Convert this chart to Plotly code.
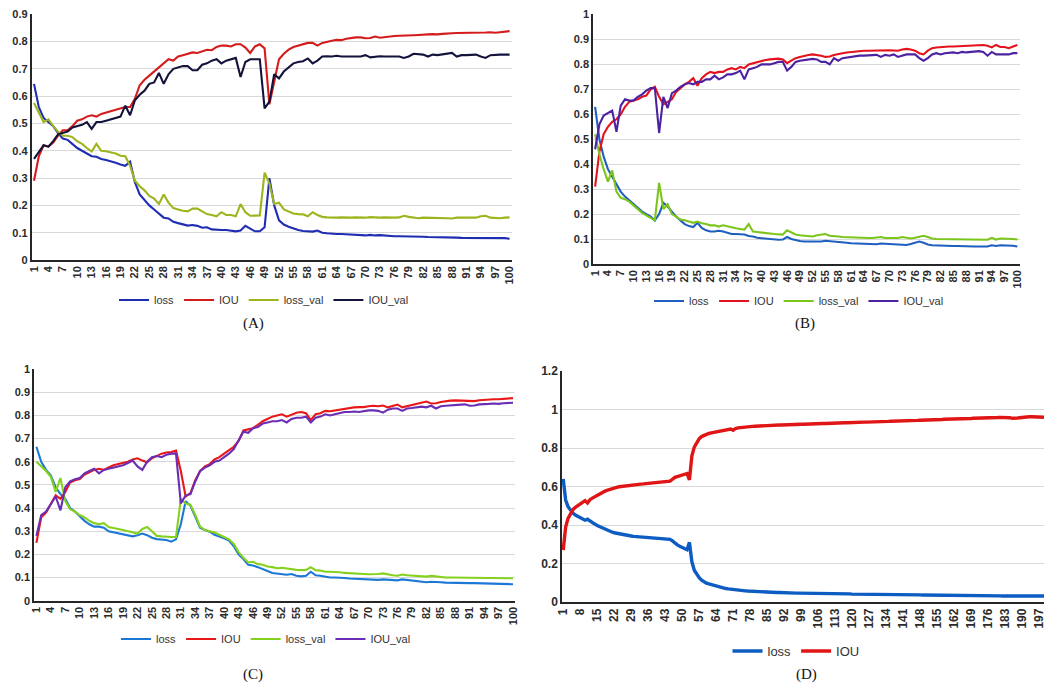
import plotly.graph_objects as go

W, H = 1052, 684

# ---- panel A (100 epochs) ----
a_loss = [0.645, 0.56, 0.52, 0.505, 0.49, 0.465, 0.445, 0.44, 0.425, 0.41,
          0.4, 0.39, 0.38, 0.378, 0.37, 0.366, 0.362, 0.356, 0.35, 0.345,
          0.36, 0.285, 0.24, 0.22, 0.2, 0.185, 0.17, 0.155, 0.152, 0.14,
          0.135, 0.13, 0.126, 0.128, 0.125, 0.118, 0.12, 0.112, 0.11, 0.11,
          0.11, 0.108, 0.105, 0.108, 0.125, 0.115, 0.105, 0.105, 0.12, 0.3,
          0.2, 0.145, 0.13, 0.122, 0.115, 0.11, 0.106, 0.104, 0.104, 0.108,
          0.1, 0.098, 0.096, 0.095, 0.095, 0.094, 0.093, 0.092, 0.09, 0.09,
          0.092, 0.09, 0.091, 0.089, 0.088, 0.087, 0.087, 0.087, 0.086, 0.086,
          0.085, 0.085, 0.084, 0.084, 0.084, 0.083, 0.083, 0.082, 0.082, 0.081,
          0.081, 0.08, 0.08, 0.08, 0.08, 0.08, 0.08, 0.081, 0.08, 0.078]
a_iou = [0.29, 0.38, 0.42, 0.415, 0.43, 0.455, 0.475, 0.475, 0.49, 0.51,
         0.515, 0.525, 0.53, 0.525, 0.535, 0.54, 0.545, 0.55, 0.555, 0.56,
         0.56, 0.59, 0.64, 0.66, 0.675, 0.69, 0.705, 0.72, 0.735, 0.73,
         0.745, 0.75, 0.755, 0.76, 0.758, 0.765, 0.77, 0.768, 0.78, 0.785,
         0.785, 0.782, 0.79, 0.79, 0.778, 0.758, 0.782, 0.79, 0.775, 0.57,
         0.65, 0.735, 0.755, 0.77, 0.78, 0.785, 0.79, 0.795, 0.795, 0.785,
         0.795, 0.8, 0.803, 0.806, 0.805, 0.81, 0.813, 0.815, 0.815, 0.812,
         0.813, 0.818, 0.814, 0.816, 0.82, 0.82, 0.821, 0.821, 0.822, 0.823,
         0.824, 0.826, 0.826, 0.827, 0.826, 0.828, 0.83, 0.83, 0.831, 0.831,
         0.832, 0.833, 0.833, 0.833, 0.833, 0.834, 0.832, 0.834, 0.836, 0.838]
a_loss_val = [0.575, 0.54, 0.505, 0.515, 0.49, 0.47, 0.455, 0.455, 0.45, 0.435,
              0.425, 0.41, 0.397, 0.425, 0.4, 0.398, 0.395, 0.39, 0.382, 0.38,
              0.345, 0.29, 0.27, 0.255, 0.235, 0.225, 0.205, 0.24, 0.21, 0.19,
              0.185, 0.18, 0.178, 0.188, 0.188, 0.178, 0.168, 0.165, 0.16, 0.175,
              0.165, 0.165, 0.16, 0.205, 0.175, 0.162, 0.163, 0.163, 0.32, 0.28,
              0.205, 0.21, 0.185, 0.178, 0.17, 0.168, 0.167, 0.16, 0.175, 0.165,
              0.158, 0.156, 0.155, 0.155, 0.156, 0.155, 0.155, 0.156, 0.155, 0.155,
              0.157, 0.155, 0.155, 0.156, 0.155, 0.155, 0.156, 0.162, 0.158, 0.155,
              0.153, 0.155, 0.155, 0.153, 0.154, 0.155, 0.153, 0.152, 0.155, 0.155,
              0.155, 0.154, 0.155, 0.16, 0.162, 0.155, 0.154, 0.153, 0.155, 0.156]
a_iou_val = [0.37, 0.395, 0.42, 0.415, 0.435, 0.46, 0.465, 0.47, 0.485, 0.49,
             0.495, 0.505, 0.48, 0.505, 0.505, 0.51, 0.515, 0.52, 0.525, 0.565,
             0.53, 0.585, 0.605, 0.62, 0.645, 0.65, 0.685, 0.645, 0.68, 0.7,
             0.705, 0.71, 0.71, 0.695, 0.695, 0.715, 0.72, 0.73, 0.735, 0.72,
             0.73, 0.735, 0.74, 0.67, 0.725, 0.735, 0.735, 0.735, 0.555, 0.58,
             0.68, 0.665, 0.69, 0.705, 0.72, 0.725, 0.728, 0.738, 0.72, 0.73,
             0.745, 0.746, 0.745, 0.748, 0.745, 0.745, 0.746, 0.745, 0.745, 0.75,
             0.742, 0.745, 0.746, 0.745, 0.745, 0.746, 0.745, 0.74, 0.745, 0.755,
             0.754, 0.752, 0.745, 0.752, 0.75, 0.752, 0.756, 0.758, 0.745, 0.75,
             0.75, 0.75, 0.752, 0.745, 0.74, 0.75, 0.752, 0.752, 0.752, 0.752]

# ---- panel B (100 epochs) ----
b_loss = [0.63, 0.5, 0.43, 0.38, 0.35, 0.32, 0.29, 0.27, 0.255, 0.24,
          0.225, 0.21, 0.2, 0.19, 0.175, 0.2, 0.245, 0.23, 0.21, 0.19,
          0.175, 0.16, 0.152, 0.148, 0.165, 0.145, 0.135, 0.13, 0.13, 0.133,
          0.13, 0.125, 0.12, 0.12, 0.12, 0.118, 0.112, 0.11, 0.105, 0.103,
          0.1, 0.1, 0.098, 0.097, 0.098, 0.108, 0.1, 0.095, 0.092, 0.09,
          0.09, 0.088, 0.088, 0.09, 0.093, 0.092, 0.09, 0.088, 0.087, 0.085,
          0.083, 0.082, 0.081, 0.08, 0.08, 0.08, 0.079, 0.082, 0.081, 0.08,
          0.079, 0.08, 0.077, 0.076, 0.08, 0.085, 0.09, 0.085, 0.078, 0.075,
          0.074, 0.074, 0.073, 0.073, 0.072, 0.072, 0.071, 0.071, 0.07, 0.07,
          0.07, 0.07, 0.07, 0.075, 0.072, 0.075, 0.075, 0.076, 0.073, 0.07]
b_iou = [0.31, 0.45, 0.52, 0.55, 0.57, 0.58, 0.6, 0.63, 0.65, 0.655,
         0.66, 0.67, 0.675, 0.7, 0.71, 0.67, 0.64, 0.65, 0.66, 0.69,
         0.705, 0.72, 0.73, 0.745, 0.715, 0.745, 0.76, 0.77, 0.765, 0.77,
         0.77, 0.78, 0.785, 0.78, 0.79, 0.785, 0.8, 0.805, 0.81, 0.815,
         0.818, 0.82, 0.822, 0.823, 0.82, 0.805, 0.815, 0.825, 0.83, 0.835,
         0.838, 0.84, 0.838, 0.835, 0.83, 0.832, 0.838, 0.84, 0.845, 0.848,
         0.85, 0.852, 0.853, 0.855, 0.855, 0.856, 0.857, 0.855, 0.857, 0.857,
         0.856, 0.855, 0.86, 0.862, 0.86, 0.855, 0.845, 0.84, 0.855, 0.865,
         0.868, 0.87, 0.87, 0.872, 0.872, 0.873, 0.875, 0.876, 0.878, 0.878,
         0.88, 0.878, 0.875, 0.868, 0.878, 0.87, 0.87, 0.865, 0.872, 0.878]
b_loss_val = [0.52, 0.44, 0.38, 0.33, 0.375, 0.29, 0.265, 0.26, 0.25, 0.235,
              0.22, 0.205, 0.195, 0.185, 0.175, 0.325, 0.22, 0.24, 0.2, 0.19,
              0.178, 0.175, 0.17, 0.165, 0.17, 0.163, 0.16, 0.155, 0.155, 0.15,
              0.155, 0.15, 0.145, 0.143, 0.14, 0.138, 0.16, 0.13, 0.128, 0.125,
              0.123, 0.122, 0.12, 0.118, 0.118, 0.135, 0.128, 0.118, 0.115, 0.113,
              0.112, 0.11, 0.115, 0.117, 0.12, 0.113, 0.113, 0.11, 0.108, 0.107,
              0.105, 0.104, 0.104, 0.104, 0.104, 0.104, 0.105, 0.108, 0.104, 0.104,
              0.105, 0.104, 0.108, 0.104, 0.102, 0.105, 0.11, 0.113, 0.108, 0.102,
              0.1, 0.1, 0.099, 0.099, 0.098, 0.098, 0.098, 0.098, 0.097, 0.097,
              0.097, 0.097, 0.097, 0.105, 0.098, 0.102, 0.102, 0.102, 0.1, 0.098]
b_iou_val = [0.46, 0.56, 0.595, 0.605, 0.615, 0.53, 0.635, 0.66, 0.655, 0.655,
             0.67, 0.68, 0.695, 0.705, 0.705, 0.525, 0.67, 0.625, 0.685, 0.695,
             0.71, 0.72, 0.725, 0.72, 0.73, 0.73, 0.74, 0.74, 0.755, 0.74,
             0.748, 0.76, 0.76, 0.765, 0.775, 0.74, 0.78, 0.785, 0.79, 0.8,
             0.8, 0.8, 0.805, 0.81, 0.81, 0.775, 0.79, 0.81, 0.815, 0.818,
             0.82, 0.822, 0.82, 0.81, 0.81, 0.8, 0.825, 0.815, 0.825, 0.828,
             0.83, 0.835, 0.835, 0.835, 0.835, 0.838, 0.838, 0.83, 0.838, 0.835,
             0.84, 0.83, 0.835, 0.84, 0.84, 0.84, 0.825, 0.815, 0.825, 0.84,
             0.845, 0.84, 0.845, 0.848, 0.848, 0.845, 0.85, 0.848, 0.85, 0.853,
             0.853, 0.85, 0.835, 0.85, 0.84, 0.84, 0.84, 0.84, 0.845, 0.845]

# ---- panel C (100 epochs) ----
c_loss = [0.665, 0.6, 0.565, 0.54, 0.49, 0.46, 0.44, 0.4, 0.385, 0.365,
          0.345, 0.33, 0.32, 0.32, 0.315, 0.3, 0.295, 0.29, 0.285, 0.283,
          0.278, 0.283, 0.29, 0.283, 0.272, 0.266, 0.263, 0.262, 0.255, 0.265,
          0.33, 0.43, 0.41, 0.36, 0.315, 0.305, 0.298, 0.285, 0.278, 0.27,
          0.26, 0.235, 0.2, 0.18, 0.155, 0.152, 0.145, 0.135, 0.128, 0.12,
          0.118, 0.115, 0.112, 0.115, 0.108, 0.105, 0.108, 0.125, 0.11, 0.108,
          0.103, 0.1, 0.1, 0.1, 0.098, 0.096, 0.095, 0.093, 0.092, 0.092,
          0.091, 0.09, 0.092, 0.09, 0.09, 0.088, 0.092, 0.09, 0.087, 0.085,
          0.082, 0.08, 0.082, 0.082, 0.08, 0.078, 0.077, 0.076, 0.076, 0.076,
          0.076, 0.076, 0.075, 0.074, 0.074, 0.073, 0.072, 0.072, 0.071, 0.071]
c_iou = [0.25, 0.36, 0.38, 0.42, 0.455, 0.44, 0.47, 0.51, 0.52, 0.525,
         0.545, 0.555, 0.565, 0.57, 0.565, 0.575, 0.585, 0.59, 0.595, 0.6,
         0.61, 0.615, 0.605, 0.598, 0.615, 0.625, 0.635, 0.64, 0.642, 0.648,
         0.56, 0.45, 0.465, 0.52, 0.56, 0.58, 0.59, 0.61, 0.62, 0.635,
         0.65, 0.665, 0.69, 0.735, 0.74, 0.745, 0.76, 0.775, 0.785, 0.795,
         0.8, 0.805, 0.795, 0.805, 0.812, 0.815, 0.81, 0.78, 0.805, 0.81,
         0.82, 0.818, 0.822, 0.826, 0.83, 0.833, 0.835, 0.836, 0.836, 0.84,
         0.842, 0.84, 0.843, 0.835, 0.842, 0.847, 0.835, 0.84, 0.845, 0.85,
         0.855, 0.86, 0.852, 0.853, 0.858, 0.862, 0.864, 0.865, 0.865, 0.865,
         0.865, 0.862, 0.866, 0.868, 0.869, 0.87, 0.87, 0.872, 0.874, 0.875]
c_loss_val = [0.6, 0.58, 0.56, 0.535, 0.47, 0.53, 0.43, 0.395, 0.385, 0.37,
              0.36, 0.345, 0.335, 0.33, 0.335, 0.318, 0.315, 0.31, 0.305, 0.3,
              0.295, 0.29, 0.31, 0.318, 0.3, 0.28, 0.278, 0.275, 0.275, 0.275,
              0.44, 0.42, 0.415, 0.37, 0.32, 0.305, 0.3, 0.295, 0.285, 0.275,
              0.265, 0.245, 0.21, 0.185, 0.165, 0.168, 0.158, 0.155, 0.148, 0.145,
              0.14, 0.142, 0.138, 0.135, 0.133, 0.132, 0.133, 0.145, 0.132, 0.13,
              0.125, 0.125, 0.125, 0.123, 0.12, 0.118, 0.117, 0.116, 0.115, 0.114,
              0.114, 0.115, 0.118, 0.113, 0.11, 0.108, 0.113, 0.11, 0.108, 0.106,
              0.105, 0.104, 0.107, 0.104, 0.102, 0.1, 0.1, 0.1, 0.099, 0.1,
              0.1, 0.099, 0.099, 0.098, 0.098, 0.098, 0.097, 0.097, 0.097, 0.097]
c_iou_val = [0.28, 0.37, 0.385, 0.42, 0.45, 0.39, 0.49, 0.515, 0.525, 0.53,
             0.55, 0.56, 0.57, 0.55, 0.565, 0.57, 0.575, 0.58, 0.585, 0.595,
             0.605, 0.58, 0.565, 0.6, 0.62, 0.625, 0.62, 0.63, 0.635, 0.635,
             0.42, 0.455, 0.46, 0.515, 0.56, 0.575, 0.585, 0.6, 0.605, 0.62,
             0.635, 0.655, 0.69, 0.73, 0.725, 0.745, 0.75, 0.765, 0.77, 0.775,
             0.775, 0.78, 0.77, 0.785, 0.79, 0.79, 0.795, 0.77, 0.79, 0.795,
             0.805, 0.8, 0.805, 0.81, 0.815, 0.815, 0.817, 0.815, 0.82, 0.822,
             0.822, 0.82, 0.812, 0.825, 0.83, 0.83, 0.82, 0.83, 0.832, 0.835,
             0.838, 0.835, 0.842, 0.83, 0.84, 0.842, 0.843, 0.845, 0.845, 0.848,
             0.842, 0.843, 0.848, 0.848, 0.85, 0.852, 0.85, 0.853, 0.855, 0.855]

# ---- panel D (200 epochs) ----
d_loss = [0.64, 0.53, 0.495, 0.475, 0.462, 0.452, 0.445, 0.438, 0.432, 0.425,
          0.43, 0.42, 0.412, 0.405, 0.398, 0.392, 0.385, 0.378, 0.373, 0.368,
          0.364, 0.36, 0.357, 0.354, 0.351, 0.349, 0.347, 0.345, 0.343, 0.341,
          0.34, 0.338, 0.337, 0.336, 0.335, 0.334, 0.333, 0.332, 0.331, 0.33,
          0.33, 0.329, 0.329, 0.328, 0.326, 0.318, 0.305, 0.297, 0.29, 0.284,
          0.278, 0.272, 0.31, 0.21, 0.165, 0.142, 0.126, 0.114, 0.105, 0.098,
          0.094, 0.09, 0.086, 0.083, 0.08, 0.077, 0.073, 0.07, 0.068, 0.066,
          0.065, 0.064, 0.062, 0.06, 0.059, 0.058, 0.057, 0.056, 0.055, 0.054,
          0.054, 0.053, 0.052, 0.052, 0.051, 0.051, 0.05, 0.05, 0.049, 0.049,
          0.048, 0.048, 0.048, 0.047, 0.047, 0.047, 0.046, 0.046, 0.046, 0.045,
          0.045, 0.045, 0.045, 0.044, 0.044, 0.044, 0.044, 0.044, 0.043, 0.043,
          0.043, 0.043, 0.043, 0.042, 0.042, 0.042, 0.042, 0.042, 0.042, 0.041,
          0.041, 0.041, 0.041, 0.041, 0.04, 0.04, 0.04, 0.04, 0.04, 0.04,
          0.04, 0.039, 0.039, 0.039, 0.039, 0.039, 0.039, 0.038, 0.038, 0.038,
          0.039, 0.038, 0.038, 0.037, 0.037, 0.037, 0.037, 0.037, 0.036, 0.036,
          0.036, 0.036, 0.036, 0.036, 0.035, 0.035, 0.035, 0.035, 0.035, 0.035,
          0.035, 0.034, 0.034, 0.034, 0.034, 0.034, 0.034, 0.033, 0.033, 0.033,
          0.033, 0.033, 0.033, 0.033, 0.032, 0.032, 0.032, 0.032, 0.032, 0.032,
          0.032, 0.031, 0.031, 0.031, 0.031, 0.031, 0.03, 0.03, 0.03, 0.03,
          0.029, 0.029, 0.028, 0.028, 0.029, 0.029, 0.03, 0.03, 0.031, 0.031]
d_iou = [0.27, 0.39, 0.435, 0.462, 0.48, 0.492, 0.502, 0.51, 0.518, 0.527,
         0.515, 0.532, 0.54, 0.548, 0.555, 0.562, 0.568, 0.575, 0.58, 0.585,
         0.589, 0.593, 0.596, 0.599, 0.601, 0.603, 0.605, 0.607, 0.608, 0.609,
         0.611, 0.612, 0.613, 0.614, 0.615, 0.617, 0.618, 0.619, 0.62, 0.621,
         0.622, 0.623, 0.624, 0.625, 0.628, 0.638, 0.648, 0.652, 0.656, 0.659,
         0.662, 0.668, 0.635, 0.76, 0.805, 0.83, 0.848, 0.86, 0.867, 0.872,
         0.876, 0.879, 0.882, 0.885, 0.888, 0.89, 0.893, 0.895, 0.898, 0.899,
         0.893, 0.902, 0.905, 0.907, 0.908, 0.91, 0.911, 0.912, 0.913, 0.914,
         0.915, 0.915, 0.916, 0.917, 0.917, 0.918, 0.918, 0.919, 0.919, 0.92,
         0.92, 0.921, 0.921, 0.922, 0.922, 0.923, 0.923, 0.923, 0.924, 0.924,
         0.925, 0.925, 0.926, 0.926, 0.927, 0.927, 0.928, 0.928, 0.928, 0.929,
         0.929, 0.93, 0.93, 0.93, 0.931, 0.931, 0.932, 0.932, 0.933, 0.933,
         0.934, 0.934, 0.934, 0.935, 0.935, 0.935, 0.935, 0.936, 0.936, 0.937,
         0.937, 0.938, 0.938, 0.939, 0.939, 0.94, 0.94, 0.941, 0.941, 0.941,
         0.94, 0.942, 0.942, 0.943, 0.943, 0.944, 0.944, 0.945, 0.945, 0.946,
         0.946, 0.947, 0.947, 0.948, 0.948, 0.949, 0.949, 0.95, 0.95, 0.95,
         0.951, 0.951, 0.952, 0.952, 0.952, 0.953, 0.953, 0.954, 0.954, 0.955,
         0.955, 0.955, 0.956, 0.956, 0.957, 0.957, 0.958, 0.958, 0.959, 0.959,
         0.96, 0.96, 0.961, 0.96, 0.958, 0.955, 0.954, 0.956, 0.958, 0.96,
         0.961, 0.962, 0.963, 0.963, 0.962, 0.961, 0.96, 0.96, 0.959, 0.96]

epochs_100 = list(range(1, 101))
epochs_200 = list(range(1, 201))
ticks_100 = list(range(1, 101, 3))
ticks_200 = list(range(1, 201, 7))
yticks_09 = [0, 0.1, 0.2, 0.3, 0.4, 0.5, 0.6, 0.7, 0.8, 0.9]
yticks_10 = [0, 0.1, 0.2, 0.3, 0.4, 0.5, 0.6, 0.7, 0.8, 0.9, 1]
yticks_12 = [0, 0.2, 0.4, 0.6, 0.8, 1, 1.2]
captions = ["(A)", "(B)", "(C)", "(D)"]

TICK_FONT = dict(family="Liberation Sans, Arial, sans-serif", size=11, color="#2b2b2b", weight="bold")
LEG_FONT = dict(family="Liberation Sans, Arial, sans-serif", size=11, color="#333333")
GRID = "#d9d9d9"


def dom_x(left, right):
    return [left / W, right / W]


def dom_y(top, bottom):
    return [1 - bottom / H, 1 - top / H]


# (x domain, y domain, y ticks, n epochs, x ticks, legend name, legend centre px)
panels = [
    (dom_x(23.6, 504), dom_y(5.7, 252), yticks_09, 100, ticks_100, "legend", (256, 292)),
    (dom_x(585, 1011.5), dom_y(6, 256), yticks_10, 100, ticks_100, "legend2", (791, 293)),
    (dom_x(26, 507.4), dom_y(360.7, 592.7), yticks_10, 100, ticks_100, "legend3", (258, 631)),
    (dom_x(554, 1039.5), dom_y(362.7, 594), yticks_12, 200, ticks_200, "legend4", (788, 643)),
]

series = [
    [("loss", a_loss, "#1f2db3"), ("IOU", a_iou, "#d41c1c"),
     ("loss_val", a_loss_val, "#9cb51c"), ("IOU_val", a_iou_val, "#13133c")],
    [("loss", b_loss, "#1f5fbf"), ("IOU", b_iou, "#e3121c"),
     ("loss_val", b_loss_val, "#7cc51a"), ("IOU_val", b_iou_val, "#4c22a0")],
    [("loss", c_loss, "#1c78d4"), ("IOU", c_iou, "#e81818"),
     ("loss_val", c_loss_val, "#86d11e"), ("IOU_val", c_iou_val, "#6a2eb4")],
    [("loss", d_loss, "#0d5cc2"), ("IOU", d_iou, "#e01515")],
]

fig = go.Figure()
layout = {}
for i, (xd, yd, yticks, n, ticks, leg, (lx, ly)) in enumerate(panels):
    k = "" if i == 0 else str(i + 1)
    big = n == 200
    xs = epochs_200 if big else epochs_100
    for name, vals, color in series[i]:
        fig.add_trace(go.Scatter(
            x=xs, y=vals, name=name, mode="lines",
            line=dict(color=color, width=3.4 if big else 2.1),
            xaxis="x" + k, yaxis="y" + k, legend=leg,
        ))
    fsize = 12 if big else 11
    layout["xaxis" + k] = dict(
        domain=xd, anchor="y" + k, range=[0.5, n + 0.5],
        tickvals=ticks, ticktext=[str(t) for t in ticks], tickangle=-90,
        showgrid=False, zeroline=False, showline=True, linecolor="#262626", linewidth=1.5,
        ticks="", tickfont=dict(TICK_FONT, size=fsize), automargin=False,
    )
    layout["yaxis" + k] = dict(
        domain=yd, anchor="x" + k, range=[0, yticks[-1] * 1.002],
        tickvals=yticks, ticktext=[f"{v:g}" for v in yticks],
        showgrid=True, gridcolor=GRID, gridwidth=1, zeroline=False,
        showline=True, linecolor="#262626", linewidth=1.5,
        ticks="", tickfont=dict(TICK_FONT, size=fsize), automargin=False,
    )
    layout[leg] = dict(
        orientation="h", x=lx / W, y=1 - ly / H, xanchor="center", yanchor="middle",
        font=dict(LEG_FONT, size=13 if big else 11), bgcolor="rgba(0,0,0,0)", itemwidth=30,
    )

cap_pos = [(245, 315), (797, 315), (245, 666), (798, 666)]
annotations = [
    dict(text=c, x=px / W, y=1 - py / H, xref="paper", yref="paper", showarrow=False,
         xanchor="center", yanchor="middle", borderpad=0,
         font=dict(family="Liberation Serif, Times New Roman, serif", size=15, color="#111111"))
    for c, (px, py) in zip(captions, cap_pos)
]

fig.update_layout(
    width=W, height=H,
    margin=dict(l=0, r=0, t=0, b=0),
    paper_bgcolor="white", plot_bgcolor="white",
    annotations=annotations,
    **layout,
)

fig.write_html("out.html")
